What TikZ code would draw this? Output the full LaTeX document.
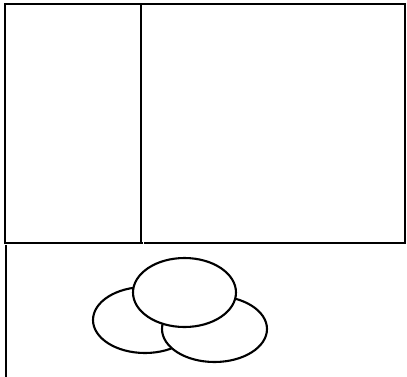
\documentclass[tikz,border=0pt]{standalone}
\usetikzlibrary{calc}

\begin{document}
\begin{tikzpicture}[x=1pt,y=-1pt,line width=2.1pt]
  \tikzset{frame/.style={draw=black,line cap=rect},
    blob/.style={draw=black,fill=white,line width=2.1pt}}
  \useasboundingbox (0,0) rectangle (407,376);
  % panes
  \draw[frame] (5,243) -- (5,4) -- (405,4) -- (405,243);
  \draw[frame] (141,4) -- (141,243);
  \draw[frame] (5,243) -- (142,243);
  \draw[frame] (145,243) -- (405,243);
  \draw (6,245) -- (6,380);
  % stones
  \draw[blob] (145,320) ellipse (52 and 33);
  \draw[blob] (214.5,329) ellipse (52.5 and 33);
  \draw[blob] (184.5,292.5) ellipse (51.5 and 34.5);
\end{tikzpicture}
\end{document}
